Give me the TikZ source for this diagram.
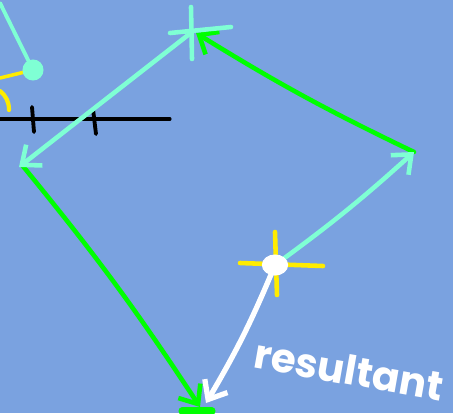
\documentclass[tikz,border=0pt]{standalone}
\usepackage{fontspec}
\setmainfont{Poppins}
\usetikzlibrary{arrows.meta}
\definecolor{fondo}{RGB}{122,162,224}
\definecolor{aqua}{RGB}{127,255,212}
\definecolor{verde}{RGB}{0,255,0}
\definecolor{amarillo}{RGB}{255,236,0}

\begin{document}
\begin{tikzpicture}[x=0.02cm,y=-0.02cm,line cap=round,line join=round,
  trazo/.style={line width=2.6pt},
  punta/.style={-{Straight Barb[length=9pt,width=15pt]}}]
  \fill[fondo] (0,0) rectangle (453,413);
  \useasboundingbox (0,0) rectangle (453,413);
  \coordinate (pin) at (33,70);
  \coordinate (arriba) at (192,32);
  \coordinate (izq) at (19,167);
  \coordinate (der) at (414,152);
  \coordinate (res) at (275,265);
  \coordinate (abajo) at (200,407);
  \coordinate (fin) at (206,403);
  \draw[trazo,black,line width=1.8pt] (0,119) -- (170,119);
  \draw[trazo,black,line width=2.2pt] (32,107) -- (34,132);
  \draw[trazo,black,line width=2.2pt] (93,109) -- (96,134);
  \draw[trazo,amarillo,line width=2pt] (0,78) -- (pin);
  \draw[trazo,amarillo,line width=2.4pt] (0,91) to[bend left=25] (9,110);
  \draw[trazo,aqua,line width=2.2pt] (0,3) -- (pin);
  \fill[aqua] (pin) circle (6pt);
  \draw[trazo,verde,punta] (der) to[bend left=3] (196,33);
  \draw[trazo,verde,punta] (22,165) to[bend left=3] (abajo);
  \draw[trazo,verde,line width=4pt] (182,411) -- (212,411);
  \draw[trazo,aqua,punta] (arriba) -- (izq);
  \draw[trazo,aqua] (191,7) -- (192,59);
  \draw[trazo,aqua] (170,33) -- (231,27);
  \draw[trazo,aqua,punta] (res) to[bend right=3] (der);
  \draw[trazo,amarillo] (240,263) -- (323,266);
  \draw[trazo,amarillo] (275,232) -- (277,295);
  \draw[trazo,white,line width=3pt,punta] (res) to[bend left=4] (fin);
  \fill[white] (res) ellipse (7.5pt and 6pt);
  \node[white,rotate=-10,inner sep=0pt,font=\bfseries\fontsize{23}{23}\selectfont] (rotulo) at (349,370) {resultant};
\end{tikzpicture}
\end{document}
